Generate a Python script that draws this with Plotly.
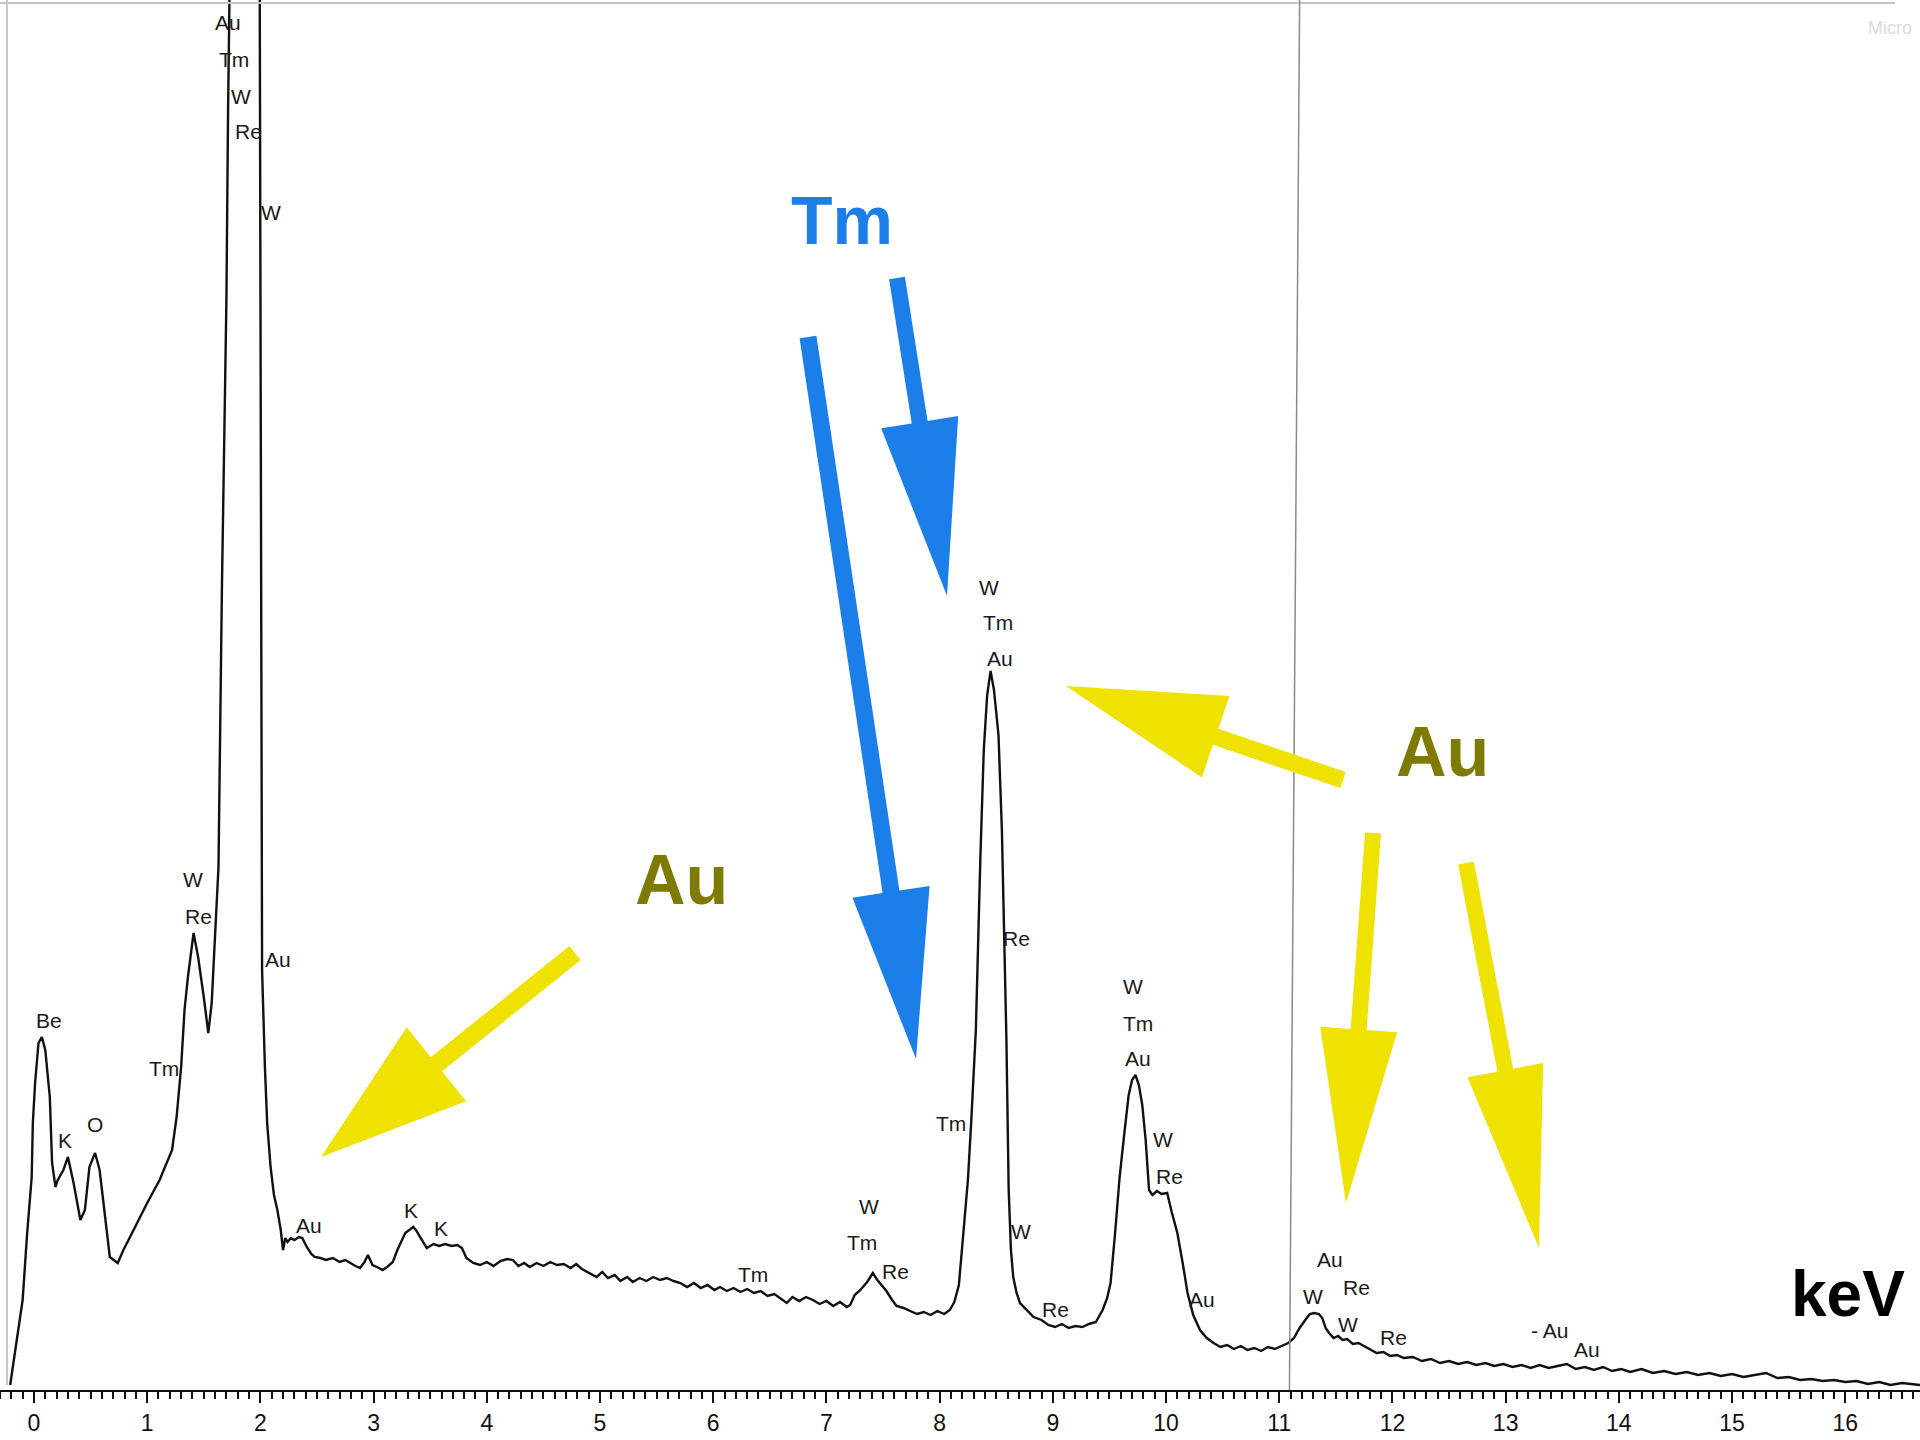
import plotly.graph_objects as go

# ---------------- data ----------------
energy_kev = [
    -0.21, -0.10, -0.06, -0.02, -0.01, 0.01, 0.04, 0.07, 0.10, 0.14, 0.16, 0.19, 0.21, 0.26, 0.30,
    0.35, 0.41, 0.45, 0.49, 0.54, 0.58, 0.63, 0.67, 0.74, 0.79, 0.88, 1.00, 1.11, 1.22, 1.26, 1.30,
    1.33, 1.36, 1.41, 1.45, 1.50, 1.54, 1.57, 1.60, 1.63, 1.66, 1.70, 1.715, 1.74, 1.86, 1.99, 2.00,
    2.01, 2.015, 2.04, 2.06, 2.09, 2.12, 2.15, 2.18, 2.20, 2.22, 2.24, 2.27, 2.30, 2.34, 2.37, 2.41,
    2.45, 2.48, 2.53, 2.58, 2.64, 2.70, 2.75, 2.79, 2.84, 2.88, 2.92, 2.95, 2.99, 3.03, 3.08, 3.12,
    3.17, 3.21, 3.25, 3.28, 3.35, 3.38, 3.41, 3.45, 3.47, 3.53, 3.58, 3.63, 3.69, 3.74, 3.78, 3.82,
    3.88, 3.94, 4.00, 4.06, 4.12, 4.18, 4.23, 4.28, 4.33, 4.38, 4.44, 4.50, 4.56, 4.62, 4.68, 4.74,
    4.79, 4.84, 4.90, 4.97, 5.02, 5.07, 5.13, 5.18, 5.24, 5.29, 5.35, 5.41, 5.47, 5.53, 5.59, 5.65,
    5.71, 5.77, 5.83, 5.89, 5.95, 6.01, 6.06, 6.12, 6.18, 6.24, 6.30, 6.36, 6.42, 6.48, 6.54, 6.60,
    6.65, 6.70, 6.76, 6.82, 6.88, 6.94, 7.00, 7.06, 7.12, 7.18, 7.21, 7.25, 7.30, 7.36, 7.41, 7.45,
    7.49, 7.53, 7.58, 7.62, 7.68, 7.74, 7.80, 7.86, 7.92, 7.98, 8.04, 8.09, 8.13, 8.17, 8.21, 8.25,
    8.28, 8.32, 8.36, 8.39, 8.42, 8.45, 8.48, 8.52, 8.55, 8.57, 8.59, 8.61, 8.63, 8.65, 8.68, 8.71,
    8.77, 8.83, 8.90, 8.96, 9.02, 9.08, 9.14, 9.20, 9.26, 9.32, 9.38, 9.44, 9.48, 9.51, 9.55, 9.59,
    9.63, 9.67, 9.70, 9.73, 9.76, 9.79, 9.82, 9.85, 9.88, 9.92, 9.96, 10.01, 10.05, 10.10, 10.15,
    10.19, 10.24, 10.30, 10.36, 10.42, 10.48, 10.54, 10.60, 10.66, 10.72, 10.78, 10.84, 10.90, 10.96,
    11.02, 11.08, 11.13, 11.18, 11.23, 11.27, 11.31, 11.35, 11.38, 11.41, 11.44, 11.48, 11.52, 11.56,
    11.60, 11.65, 11.70, 11.76, 11.81, 11.86, 11.92, 11.98, 12.04, 12.10, 12.18, 12.26, 12.34, 12.42,
    12.50, 12.58, 12.66, 12.74, 12.82, 12.90, 12.98, 13.06, 13.14, 13.22, 13.30, 13.38, 13.46, 13.54,
    13.62, 13.70, 13.78, 13.86, 13.94, 14.02, 14.10, 14.20, 14.30, 14.40, 14.50, 14.60, 14.70, 14.80,
    14.90, 15.00, 15.10, 15.20, 15.30, 15.40, 15.50, 15.60, 15.70, 15.80, 15.90, 16.00, 16.10, 16.20,
    16.30, 16.40, 16.50, 16.66,
]
counts = [
    5, 90, 157, 213, 267, 307, 347, 353, 340, 293, 227, 203, 210, 220, 233,
    207, 170, 180, 223, 237, 220, 173, 133, 127, 140, 160, 187, 210, 240, 273, 323,
    380, 413, 457, 433, 393, 357, 387, 457, 523, 800, 1090, 1283, 1600, 2600, 1600, 1162,
    900, 420, 323, 267, 223, 195, 180, 160, 140, 152, 148, 152, 150, 153, 152, 143,
    136, 133, 132, 130, 132, 128, 130, 127, 124, 122, 128, 135, 125, 123, 120, 123,
    128, 140, 150, 157, 163, 159, 153, 146, 142, 146, 144, 146, 144, 145, 142, 132,
    127, 125, 128, 124, 129, 131, 130, 124, 127, 123, 127, 124, 128, 125, 126, 122,
    126, 121, 117, 113, 118, 112, 115, 109, 113, 108, 112, 109, 113, 110, 112, 109,
    107, 103, 107, 102, 105, 100, 103, 99, 102, 98, 101, 97, 99, 94, 96, 91,
    87, 93, 89, 93, 90, 86, 89, 84, 88, 83, 85, 95, 100, 108, 117, 110,
    104, 99, 90, 84, 82, 79, 76, 78, 75, 79, 76, 80, 88, 105, 160, 210,
    270, 360, 533, 640, 695, 719, 700, 655, 560, 459, 350, 200, 140, 113, 97, 87,
    80, 73, 70, 65, 63, 66, 62, 64, 63, 66, 68, 80, 92, 107, 157, 213,
    255, 295, 310, 315, 305, 285, 250, 200, 195, 199, 196, 197, 178, 157, 125,
    97, 75, 60, 52, 47, 43, 45, 41, 44, 40, 42, 39, 43, 41,
    44, 47, 52, 62, 70, 76, 77, 76, 72, 62, 57, 52, 54, 50,
    51, 46, 47, 43, 40, 37, 38, 34, 35, 32, 33, 29, 31, 27,
    29, 26, 28, 25, 27, 24, 26, 23, 25, 22, 25, 22, 24, 26,
    21, 23, 20, 23, 19, 21, 18, 21, 17, 19, 16, 18, 15, 17,
    14, 16, 13, 15, 17, 12, 13, 10, 11, 9, 10, 8, 9, 6,
    8, 5, 7, 5,
]

# peak identification labels
label_text = ["Au", "Tm", "W", "Re", "W", "W", "Re", "Au", "Be", "Tm", "K", "O", "Au", "K", "K",
              "Tm", "W", "Tm", "Re", "W", "Tm", "Au", "Re", "Tm", "W", "Re", "W", "Tm", "Au",
              "W", "Re", "Au", "Au", "W", "Re", "W", "Re", "- Au", "Au"]
label_kev = [1.712, 1.766, 1.830, 1.896, 2.090, 1.409, 1.452, 2.155, 0.132, 1.149, 0.273, 0.543,
             2.426, 3.334, 3.594, 6.352, 7.380, 7.315, 7.606, 8.440, 8.516, 8.537, 8.678, 8.104,
             8.721, 9.024, 9.706, 9.749, 9.749, 9.976, 10.030, 10.322, 11.447, 11.296, 11.685,
             11.610, 12.010, 13.383, 13.719]
label_val = [1368, 1331, 1294, 1259, 1178, 511, 474, 431, 370, 322, 250, 266, 165, 180, 162,
             116, 184, 148, 119, 803, 768, 732, 452, 267, 159, 81, 404, 367, 332, 251, 214, 91,
             131, 94, 103, 66, 53, 60, 41]

tick_values = list(range(0, 17))
tick_labels = [str(v) for v in tick_values]

# ---------------- geometry helpers (figure pixels) ----------------
W, H = 1920, 1440
PLOT_H = 1390


def px(x, y):
    return x / W, 1 - y / PLOT_H


def arrow_path(tail, tip, shaft_w, head_len, head_w):
    tx, ty = tail
    hx, hy = tip
    dx, dy = hx - tx, hy - ty
    L = (dx * dx + dy * dy) ** 0.5
    ux, uy = dx / L, dy / L
    nx, ny = -uy, ux
    bx, by = hx - ux * head_len, hy - uy * head_len
    pts = [
        (tx + nx * shaft_w / 2, ty + ny * shaft_w / 2),
        (bx + nx * shaft_w / 2, by + ny * shaft_w / 2),
        (bx + nx * head_w / 2, by + ny * head_w / 2),
        (hx, hy),
        (bx - nx * head_w / 2, by - ny * head_w / 2),
        (bx - nx * shaft_w / 2, by - ny * shaft_w / 2),
        (tx - nx * shaft_w / 2, ty - ny * shaft_w / 2),
    ]
    conv = [px(x, y) for x, y in pts]
    return "M " + " L ".join(f"{a:.5f},{b:.5f}" for a, b in conv) + " Z"


BLUE = "#1c7ee8"
YELLOW = "#efe200"
OLIVE = "#7d7b04"
FONT = "Liberation Sans, Arial, sans-serif"

fig = go.Figure()
fig.add_trace(go.Scatter(
    x=energy_kev, y=counts, mode="lines",
    line=dict(color="#111111", width=2.4),
    hoverinfo="skip", showlegend=False,
))

shapes = []
# scan frame lines
shapes.append(dict(type="line", xref="paper", yref="paper", x0=px(0, 3)[0], x1=px(1895, 3)[0],
                   y0=px(0, 3)[1], y1=px(0, 3)[1], line=dict(color="#c4c4c4", width=2)))
shapes.append(dict(type="line", xref="paper", yref="paper", x0=px(7, 0)[0], x1=px(7, 0)[0],
                   y0=px(0, 0)[1], y1=px(0, 1385)[1], line=dict(color="#c8c8c8", width=2)))
# marker line
shapes.append(dict(type="line", xref="x", yref="paper", x0=11.09, x1=11.18, y0=0, y1=1,
                   line=dict(color="#8a8a8a", width=1.5)))

arrows = [
    (BLUE, (808, 337), (916, 1059), 17, 169, 78),
    (BLUE, (897, 278), (947, 596), 16, 176, 78),
    (YELLOW, (575, 953), (321, 1157), 18, 148, 95),
    (YELLOW, (1343, 780), (1066, 686), 17, 158, 86),
    (YELLOW, (1373, 833), (1346, 1203), 16, 174, 77),
    (YELLOW, (1466, 863), (1539, 1248), 16, 181, 77),
]
for col, tail, tip, sw, hl, hw in arrows:
    shapes.append(dict(type="path", xref="paper", yref="paper", path=arrow_path(tail, tip, sw, hl, hw),
                       fillcolor=col, line=dict(width=0), layer="above"))

annotations = []
for t, xk, yv in zip(label_text, label_kev, label_val):
    annotations.append(dict(x=xk, y=yv, xref="x", yref="y", text=t, showarrow=False,
                            xanchor="center", yanchor="middle",
                            font=dict(family=FONT, size=21, color="#1a1a1a")))


def big_text(text, cx, cy, color, size):
    ax, ay = px(cx, cy)
    annotations.append(dict(x=ax, y=ay, xref="paper", yref="paper", text=f"<b>{text}</b>",
                            showarrow=False, xanchor="center", yanchor="middle",
                            font=dict(family=FONT, size=size, color=color)))


big_text("Tm", 842, 220, BLUE, 68)
big_text("Au", 681, 880, OLIVE, 70)
big_text("Au", 1442, 752, OLIVE, 70)
big_text("keV", 1848, 1294, "#000000", 64)

# faint scanned header text at top right
ax, ay = px(1914, 28)
annotations.append(dict(x=ax, y=ay, xref="paper", yref="paper", text="Micro", showarrow=False,
                        xanchor="right", yanchor="middle",
                        font=dict(family=FONT, size=18, color="#dcdcdc")))

fig.update_layout(
    width=W, height=H,
    margin=dict(l=0, r=0, t=0, b=H - PLOT_H),
    paper_bgcolor="white", plot_bgcolor="white",
    shapes=shapes, annotations=annotations,
    showlegend=False,
)
fig.update_xaxes(
    range=[-0.30, 16.66], tickmode="array", tickvals=tick_values, ticktext=tick_labels,
    showgrid=False, zeroline=False, showline=True, linecolor="#111111", linewidth=2,
    ticks="outside", ticklen=11, tickwidth=2, tickcolor="#111111",
    tickfont=dict(family="Liberation Sans Narrow, Liberation Sans, Arial, sans-serif", size=23,
                  color="#111111"),
    minor=dict(dtick=0.1, tick0=0, ticks="outside", ticklen=7, tickwidth=1.5, tickcolor="#111111",
               showgrid=False),
)
fig.update_yaxes(range=[0, PLOT_H], visible=False, showgrid=False, zeroline=False)

fig.write_html("out.html", config={"displayModeBar": False},
               post_script="document.body.style.margin='0px';document.body.style.overflow='hidden';")
